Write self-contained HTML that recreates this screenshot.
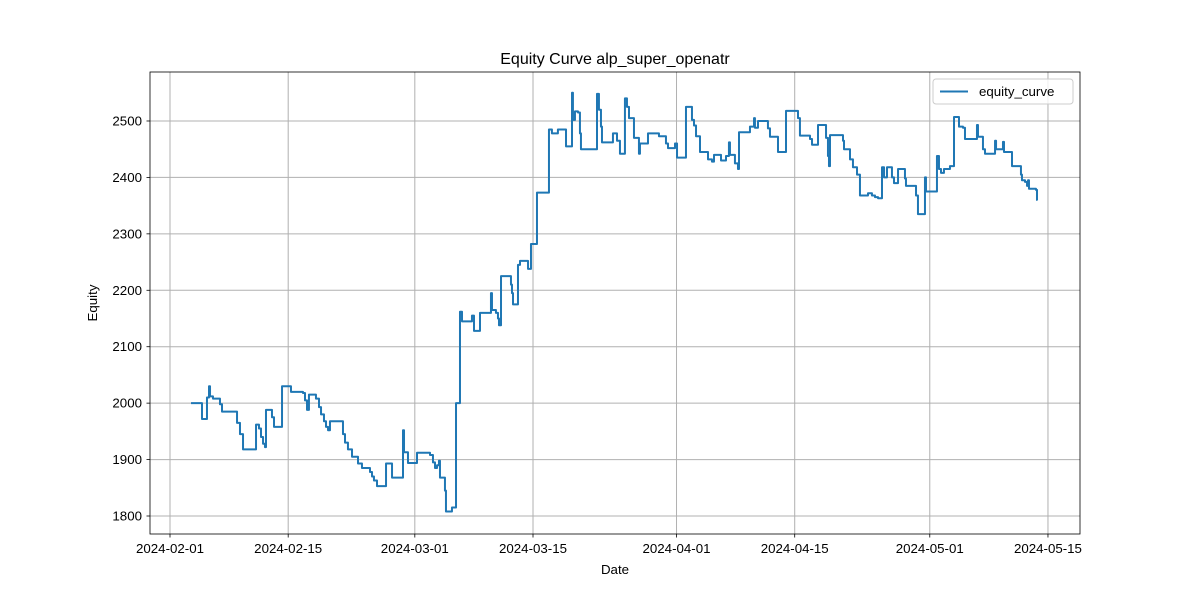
<!DOCTYPE html>
<html><head><meta charset="utf-8"><style>
html,body{margin:0;padding:0;background:#fff;}
svg{display:block;font-family:"Liberation Sans","DejaVu Sans",sans-serif;}
</style></head><body>
<svg id="chart" width="1200" height="600">
<rect x="0" y="0" width="1200" height="600" fill="#fff"/>
<g id="grid"></g>
<g id="ticks"></g>
<path id="line" fill="none" stroke="#1f77b4" stroke-width="2" stroke-linejoin="round"/>
<rect x="150" y="72" width="930" height="462" fill="none" stroke="#000" stroke-width="0.8"/>
<text x="615" y="64" text-anchor="middle" font-size="16">Equity Curve alp_super_openatr</text>
<text x="615" y="574" text-anchor="middle" font-size="13.3">Date</text>
<text x="97" y="303" text-anchor="middle" font-size="13.3" transform="rotate(-90 97 303)">Equity</text>
<g>
<rect x="933" y="79" width="140" height="25" rx="3" fill="#fff" fill-opacity="0.8" stroke="#ccc" stroke-width="1"/>
<line x1="940" y1="91.5" x2="968" y2="91.5" stroke="#1f77b4" stroke-width="2"/>
<text x="979" y="96" font-size="13.3">equity_curve</text>
</g>
</svg>
<script>
const xTickDays = [0,14,29,43,60,74,90,104];
const xTickLabels = ["2024-02-01","2024-02-15","2024-03-01","2024-03-15","2024-04-01","2024-04-15","2024-05-01","2024-05-15"];
const yTickValues = [1800,1900,2000,2100,2200,2300,2400,2500];
const days = [2.49,3.79,4.38,4.62,4.74,5.09,5.92,6.16,7.94,8.29,8.65,10.19,10.54,10.78,11.02,11.25,11.37,12.08,12.32,13.27,14.33,15.75,15.99,16.23,16.46,17.29,17.65,17.89,18.24,18.48,18.72,18.95,20.49,20.73,21.08,21.56,22.27,22.74,23.69,23.93,24.16,24.52,25.59,26.30,27.60,27.72,28.19,29.26,30.80,31.15,31.39,31.63,31.86,31.98,32.57,32.69,33.40,33.88,34.35,34.59,35.77,36.01,36.72,38.02,38.14,38.61,38.85,38.97,39.21,40.39,40.51,40.63,41.22,41.46,42.41,42.76,43.47,44.89,45.24,45.95,46.91,47.62,47.73,47.97,48.33,48.56,48.68,50.58,50.81,51.05,51.17,52.47,52.95,53.30,53.89,54.13,54.37,54.96,55.55,55.67,56.62,57.92,58.75,58.99,59.82,60.06,61.12,61.83,62.07,62.31,62.78,63.73,64.20,64.44,65.27,65.86,66.21,66.33,66.92,67.28,67.40,68.70,69.18,69.29,69.65,70.83,71.07,72.02,72.97,74.39,74.62,75.81,76.05,76.76,77.71,77.94,78.06,78.18,79.72,79.84,80.55,80.90,81.38,81.73,82.68,83.15,83.51,83.87,84.34,84.58,84.93,85.52,85.76,86.24,87.06,87.18,88.37,88.60,89.43,89.55,90.85,91.09,91.33,91.68,92.39,92.87,93.46,93.93,94.17,95.59,95.71,96.30,96.54,97.73,97.85,98.67,98.79,99.74,100.80,100.92,101.28,101.52,101.64,101.75,102.58,102.70];
const equity = [2000,1972,2010,2030,2012,2008,1998,1985,1965,1945,1918,1962,1955,1940,1928,1922,1988,1975,1958,2030,2020,2018,2005,1988,2015,2008,1993,1980,1968,1958,1952,1968,1945,1930,1918,1905,1893,1885,1878,1870,1863,1853,1893,1868,1952,1913,1894,1912,1908,1895,1885,1890,1898,1868,1845,1808,1815,2000,2162,2145,2155,2128,2160,2195,2165,2160,2150,2138,2225,2210,2195,2175,2245,2252,2238,2282,2373,2485,2478,2485,2455,2550,2502,2517,2515,2478,2450,2548,2520,2490,2462,2478,2465,2442,2540,2525,2505,2470,2442,2460,2478,2473,2460,2452,2460,2435,2525,2502,2492,2473,2445,2432,2428,2440,2430,2438,2462,2440,2425,2415,2480,2490,2505,2488,2500,2487,2472,2445,2518,2505,2474,2468,2458,2493,2470,2438,2420,2475,2465,2450,2432,2418,2405,2368,2372,2368,2365,2363,2418,2400,2418,2400,2390,2415,2398,2385,2368,2335,2400,2375,2438,2415,2408,2415,2420,2507,2490,2488,2468,2493,2472,2450,2442,2465,2450,2463,2445,2420,2405,2395,2392,2385,2395,2380,2378,2360];

const NS = "http://www.w3.org/2000/svg";
const sx = d => 170 + d * 8.442;
const sy = v => 516 - (v - 1800) * 0.5643;
const grid = document.getElementById('grid');
const ticks = document.getElementById('ticks');
function mk(tag, attrs, parent){const e=document.createElementNS(NS,tag);for(const k in attrs)e.setAttribute(k,attrs[k]);parent.appendChild(e);return e;}
xTickDays.forEach((d,i)=>{
  const x = sx(d);
  const g = mk('line',{x1:x,x2:x,y1:72,y2:534,stroke:'#b0b0b0','stroke-width':1},grid);
  
  
  const t = mk('line',{x1:x,x2:x,y1:534,y2:537.5,stroke:'#000','stroke-width':0.8},ticks);
  
  
  const l = mk('text',{x:x,y:553,'text-anchor':'middle','font-size':13.3},ticks);
  l.textContent = xTickLabels[i];
  
  
});
yTickValues.forEach(v=>{
  const y = sy(v);
  const g = mk('line',{x1:150,x2:1080,y1:y,y2:y,stroke:'#b0b0b0','stroke-width':1},grid);
  
  
  const t = mk('line',{x1:146.5,x2:150,y1:y,y2:y,stroke:'#000','stroke-width':0.8},ticks);
  
  
  const l = mk('text',{x:142,y:y+4.5,'text-anchor':'end','font-size':13.3},ticks);
  l.textContent = v;
  
  
});
let d = '';
for(let i=0;i<days.length;i++){
  const x = sx(days[i]), y = sy(equity[i]);
  if(i===0){ d += 'M'+x+' '+y; }
  else { d += ' L'+x+' '+sy(equity[i-1])+' L'+x+' '+y; }
}
d += ' L'+(sx(days[days.length-1])+0.5)+' '+sy(equity[equity.length-1]);
document.getElementById('line').setAttribute('d', d);
</script>
</body></html>
